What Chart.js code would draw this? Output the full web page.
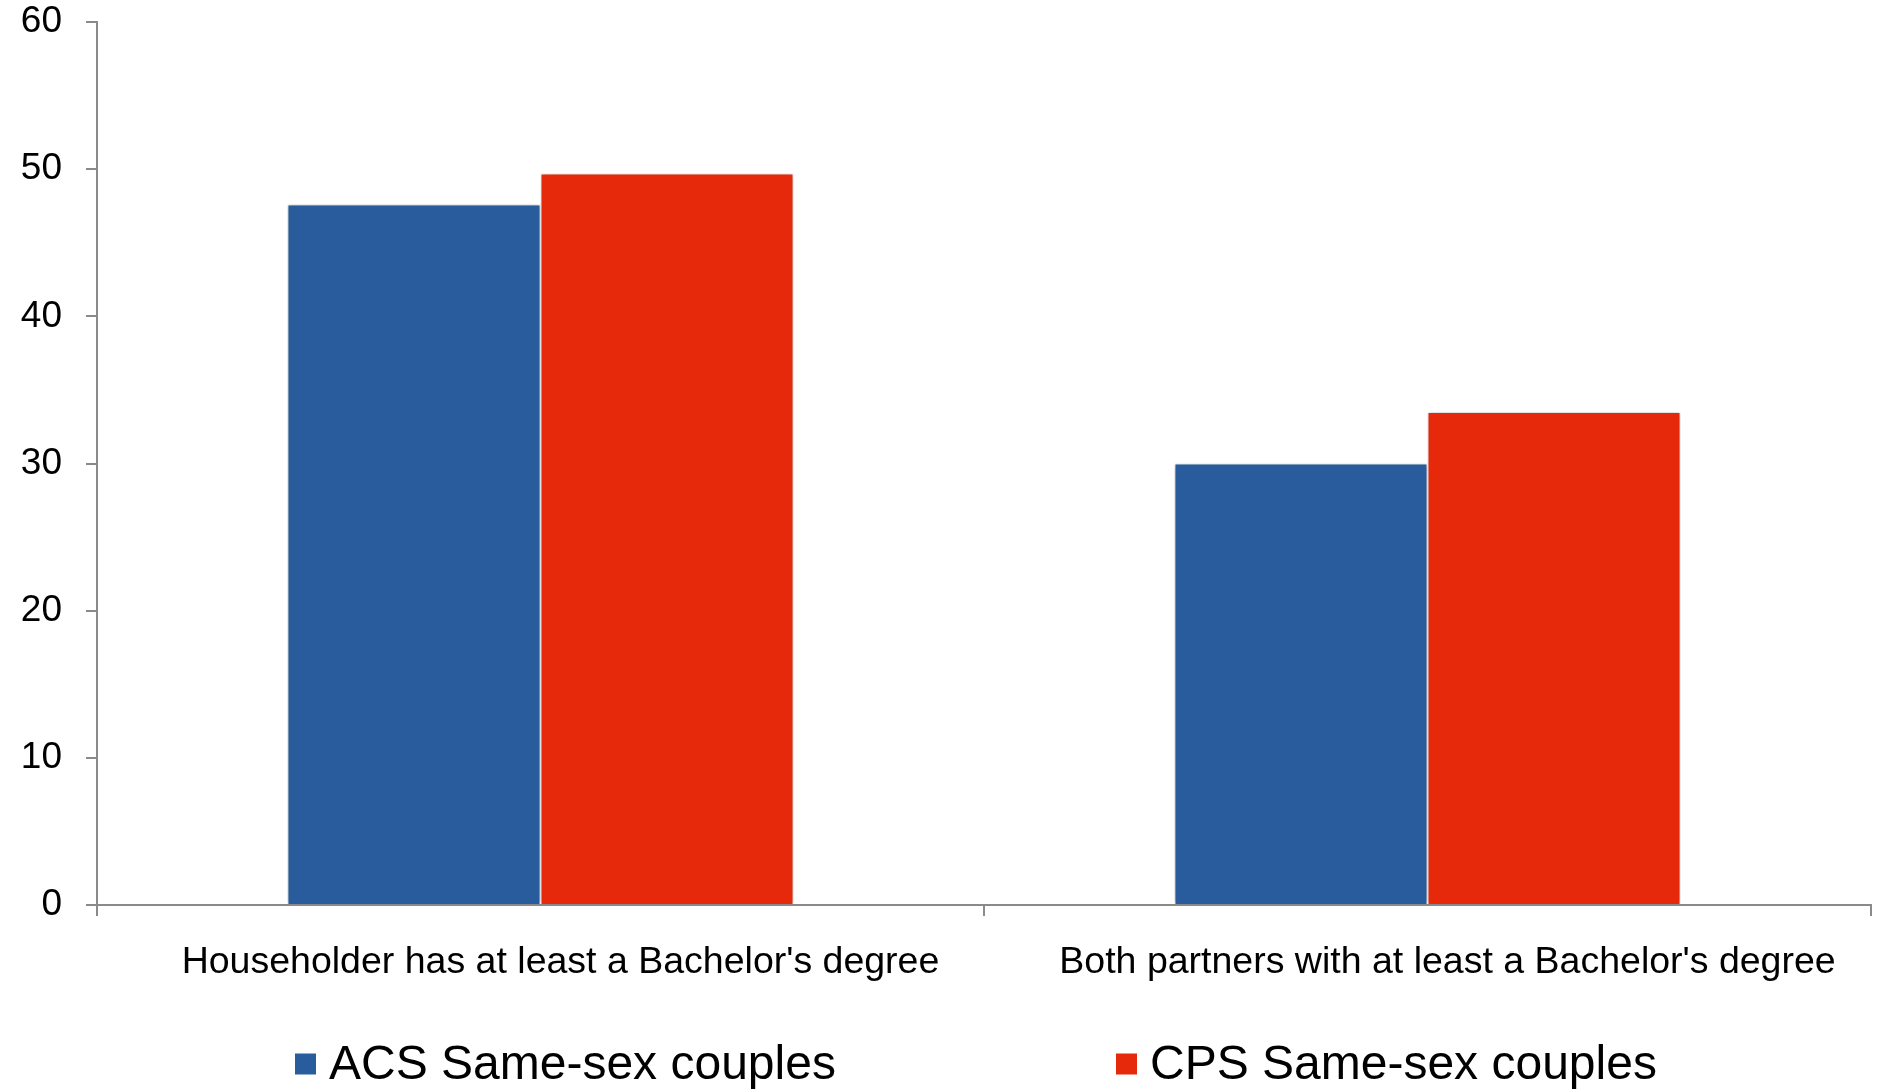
<!DOCTYPE html>
<html>
<head>
<meta charset="utf-8">
<title>Bachelor's degree attainment among same-sex couples</title>
<script src="https://cdn.jsdelivr.net/npm/chart.js@4/dist/chart.umd.min.js"></script>
<style>
  html, body { margin: 0; padding: 0; background: #ffffff; }
  #wrap { width: 1878px; height: 1091px; }
</style>
</head>
<body>
<div id="wrap"><canvas id="chart" width="1878" height="1091"></canvas></div>
<script>
// Education categories along the x axis
const categories = [
  "Householder has at least a Bachelor's degree",
  "Both partners with at least a Bachelor's degree"
];
// Share of couples (percent) by survey
const acsValues = [47.6, 30.0];
const cpsValues = [49.7, 33.5];
const seriesNames = ["ACS Same-sex couples", "CPS Same-sex couples"];
const yTicks = [0, 10, 20, 30, 40, 50, 60];

const BLUE = "#295C9C";
const RED = "#E5290A";
const AXIS_GREY = "#8A8A8A";
const FONT = "'Liberation Sans', Arial, Helvetica, sans-serif";

// Soft drop shadow behind the bars
const barShadow = {
  id: 'barShadow',
  beforeDatasetsDraw(chart) {
    const ctx = chart.ctx;
    ctx.save();
    ctx.shadowColor = 'rgba(0,0,0,0.35)';
    ctx.shadowBlur = 5;
    ctx.shadowOffsetX = 0;
    ctx.shadowOffsetY = 0;
  },
  afterDatasetsDraw(chart) {
    chart.ctx.restore();
  }
};

// Legend row under the axis labels
const bottomLegend = {
  id: 'bottomLegend',
  afterDraw(chart) {
    const ctx = chart.ctx;
    const boxSize = 21;
    const starts = [295, 1116];
    const centerY = 1064;
    ctx.save();
    ctx.font = "48px " + FONT;
    ctx.textBaseline = 'middle';
    ctx.textAlign = 'left';
    chart.data.datasets.forEach((ds, i) => {
      const x = starts[i];
      ctx.fillStyle = ds.backgroundColor;
      ctx.fillRect(x, centerY - boxSize / 2, boxSize, boxSize);
      ctx.fillStyle = '#000000';
      ctx.fillText(ds.label, x + boxSize + 13, centerY + 2);
    });
    ctx.restore();
  }
};

new Chart(document.getElementById('chart'), {
  type: 'bar',
  data: {
    labels: categories,
    datasets: [
      {
        label: seriesNames[0],
        data: acsValues,
        backgroundColor: BLUE,
        borderColor: '#ffffff',
        borderWidth: 1
      },
      {
        label: seriesNames[1],
        data: cpsValues,
        backgroundColor: RED,
        borderColor: '#ffffff',
        borderWidth: 1
      }
    ]
  },
  options: {
    responsive: false,
    animation: false,
    devicePixelRatio: 1,
    layout: { padding: { left: 21, right: 7, top: 0, bottom: 110 } },
    datasets: {
      bar: { categoryPercentage: 0.5705, barPercentage: 1.0 }
    },
    plugins: {
      legend: { display: false },
      tooltip: { enabled: false }
    },
    scales: {
      x: {
        offset: true,
        afterFit(scale) {
          scale.height = 76;
        },
        grid: {
          offset: true,
          drawOnChartArea: false,
          drawTicks: true,
          tickLength: 11,
          color: AXIS_GREY,
          lineWidth: 2
        },
        border: { display: true, color: AXIS_GREY, width: 2 },
        ticks: {
          color: '#000000',
          font: { family: FONT, size: 37.5 },
          padding: 24,
          labelOffset: 20,
          maxRotation: 0,
          autoSkip: false
        }
      },
      y: {
        min: yTicks[0],
        max: yTicks[yTicks.length - 1],
        afterBuildTicks(scale) {
          scale.ticks = yTicks.map(v => ({ value: v }));
        },
        afterFit(scale) {
          scale.width = 76;
          scale.paddingTop = 22;
          scale.paddingBottom = 0;
        },
        grid: {
          drawOnChartArea: false,
          drawTicks: true,
          tickLength: 11,
          color: AXIS_GREY,
          lineWidth: 2
        },
        border: { display: true, color: AXIS_GREY, width: 2 },
        ticks: {
          color: '#000000',
          font: { family: FONT, size: 37 },
          padding: 24
        }
      }
    }
  },
  plugins: [barShadow, bottomLegend]
});
</script>
</body>
</html>
